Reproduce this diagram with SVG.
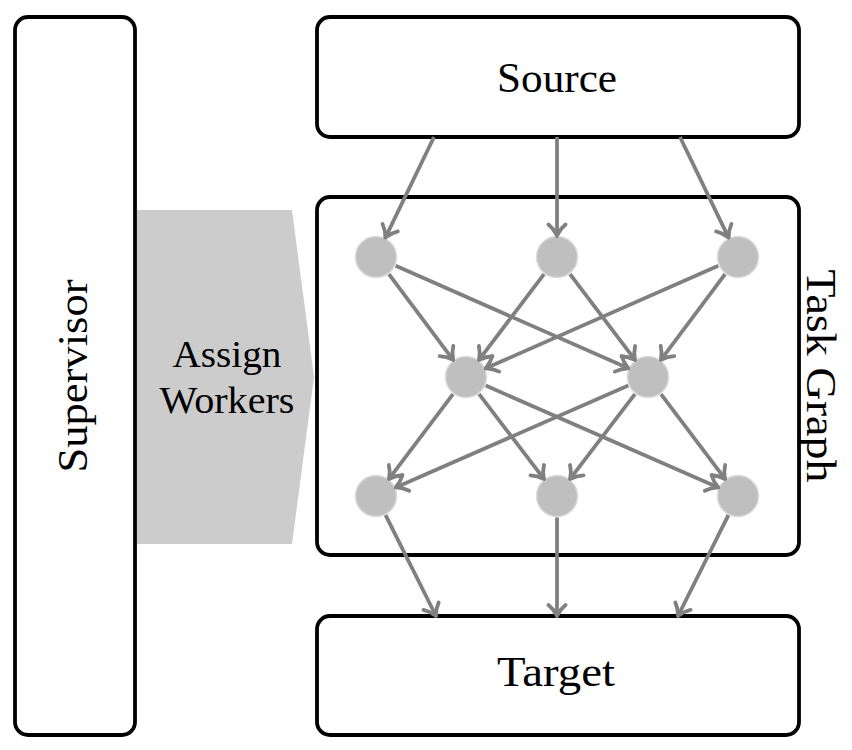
<svg xmlns="http://www.w3.org/2000/svg" width="852" height="750" viewBox="0 0 852 750">
<defs>
<style>
.box{fill:#fff;stroke:#000;stroke-width:3.8}
.t{font-family:'Liberation Serif','Times New Roman',serif;fill:#000}
.node{fill:#bfbfbf;stroke:#dadada;stroke-width:1.5}
.e{stroke:#808080;stroke-width:3.8;fill:none;marker-end:url(#ah)}
</style>
<marker id="ah" markerUnits="userSpaceOnUse" viewBox="-14 -11 16 22" refX="0" refY="0" markerWidth="16" markerHeight="22" orient="auto">
<path d="M -11,-8.5 C -6.5,-3 -2,-1 0,0 C -2,1 -6.5,3 -11,8.5" fill="none" stroke="#808080" stroke-width="3.8" stroke-linecap="round"/>
</marker>
</defs>
<rect width="852" height="750" fill="#fff"/>
<g id="assign">
<polygon points="137,210 292,210 314,377 292,544 137,544" fill="#cccccc"/>
<text class="t" x="227" y="367" font-size="37" text-anchor="middle" textLength="109" lengthAdjust="spacingAndGlyphs">Assign</text>
<text class="t" x="227" y="413" font-size="37" text-anchor="middle" textLength="135" lengthAdjust="spacingAndGlyphs">Workers</text>
</g>
<g id="supervisor">
<rect class="box" x="15" y="17" width="120" height="718" rx="13"/>
<text class="t" transform="translate(87,376) rotate(-90)" font-size="43" text-anchor="middle" textLength="193" lengthAdjust="spacingAndGlyphs">Supervisor</text>
</g>
<g id="source">
<rect class="box" x="317" y="17" width="482" height="120" rx="13"/>
<text class="t" x="557" y="92" font-size="43" text-anchor="middle" textLength="120" lengthAdjust="spacingAndGlyphs">Source</text>
</g>
<g id="taskgraph">
<rect class="box" x="317" y="197" width="482" height="358" rx="13"/>
<text class="t" transform="translate(807,376) rotate(90)" font-size="43" text-anchor="middle" textLength="213" lengthAdjust="spacingAndGlyphs">Task Graph</text>
</g>
<g id="target">
<rect class="box" x="317" y="616" width="482" height="119" rx="13"/>
<text class="t" x="556" y="686" font-size="43" text-anchor="middle" textLength="118" lengthAdjust="spacingAndGlyphs">Target</text>
</g>
<g id="nodes">
<circle id="t1" class="node" cx="376" cy="257" r="20.5"/>
<circle id="t2" class="node" cx="557" cy="257" r="20.5"/>
<circle id="t3" class="node" cx="738" cy="257" r="20.5"/>
<circle id="m1" class="node" cx="466" cy="377" r="20.5"/>
<circle id="m2" class="node" cx="648" cy="377" r="20.5"/>
<circle id="b1" class="node" cx="376" cy="496" r="20.5"/>
<circle id="b2" class="node" cx="557" cy="496" r="20.5"/>
<circle id="b3" class="node" cx="738" cy="496" r="20.5"/>
</g>
<g id="connectors">
<line class="e" x1="434" y1="137" x2="385.4" y2="237.6"/>
<line class="e" x1="557" y1="137" x2="557" y2="235.5"/>
<line class="e" x1="680" y1="137" x2="728.6" y2="237.6"/>
<line class="e" x1="388.9" y1="274.2" x2="453.1" y2="359.8"/>
<line class="e" x1="395.7" y1="265.7" x2="628.3" y2="368.3"/>
<line class="e" x1="544.0" y1="274.1" x2="479.0" y2="359.9"/>
<line class="e" x1="570.0" y1="274.1" x2="635.0" y2="359.9"/>
<line class="e" x1="718.3" y1="265.7" x2="485.7" y2="368.3"/>
<line class="e" x1="725.1" y1="274.2" x2="660.9" y2="359.8"/>
<line class="e" x1="453.0" y1="394.1" x2="389.0" y2="478.9"/>
<line class="e" x1="479.1" y1="394.1" x2="543.9" y2="478.9"/>
<line class="e" x1="485.7" y1="385.6" x2="718.3" y2="487.4"/>
<line class="e" x1="628.3" y1="385.6" x2="395.7" y2="487.4"/>
<line class="e" x1="634.9" y1="394.1" x2="570.1" y2="478.9"/>
<line class="e" x1="661.0" y1="394.1" x2="725.0" y2="478.9"/>
<line class="e" x1="385.6" y1="515.2" x2="436" y2="616"/>
<line class="e" x1="557" y1="517.5" x2="557" y2="616"/>
<line class="e" x1="728.4" y1="515.2" x2="678" y2="616"/>
</g>
</svg>
